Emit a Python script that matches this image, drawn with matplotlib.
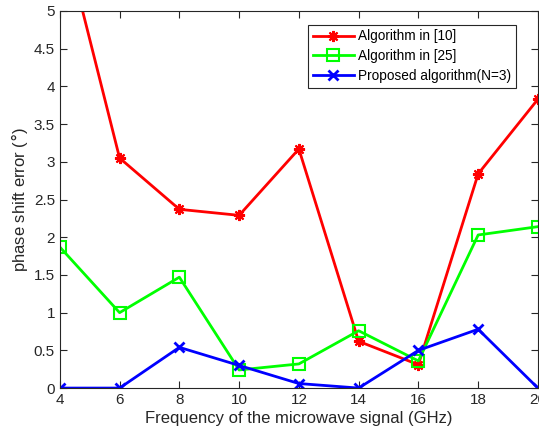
import matplotlib
matplotlib.use('Agg')
import matplotlib.pyplot as plt

plt.rcParams['font.family'] = ['Liberation Sans', 'DejaVu Sans']

# data
freq = [4, 6, 8, 10, 12, 14, 16, 18, 20]
alg10 = [6.2, 3.05, 2.37, 2.29, 3.17, 0.62, 0.31, 2.84, 3.83]
alg25 = [1.87, 1.0, 1.47, 0.24, 0.32, 0.76, 0.36, 2.03, 2.14]
proposed = [0.0, 0.0, 0.54, 0.3, 0.06, 0.0, 0.5, 0.78, 0.0]

fig = plt.figure(figsize=(5.39, 4.38), dpi=100, facecolor='white')
ax = fig.add_axes([0.111, 0.114, 0.887, 0.861])

ax.plot(freq, alg10, color='#ff0000', linewidth=2, marker=(8, 2, 0), markersize=8,
        markeredgewidth=1.5, label='Algorithm in [10]')
ax.plot(freq, alg25, color='#00ff00', linewidth=2, marker='s', markersize=8,
        markerfacecolor='none', markeredgewidth=1.5, label='Algorithm in [25]')
ax.plot(freq, proposed, color='#0000ff', linewidth=2, marker='x', markersize=7,
        markeredgewidth=2, label='Proposed algorithm(N=3)')

ax.set_xlim(4, 20)
ax.set_ylim(0, 5)
ax.set_xticks(range(4, 21, 2))
ax.set_yticks([0, 0.5, 1, 1.5, 2, 2.5, 3, 3.5, 4, 4.5, 5])
ax.set_yticklabels(['0', '0.5', '1', '1.5', '2', '2.5', '3', '3.5', '4', '4.5', '5'])
ax.tick_params(direction='in', top=True, right=True, labelsize=11, colors='#262626', length=5)
for spine in ax.spines.values():
    spine.set_color('#262626')
    spine.set_linewidth(0.8)

ax.set_xlabel('Frequency of the microwave signal (GHz)', fontsize=12, color='#262626', labelpad=3)
ax.set_ylabel('phase shift error ($\\degree$)', fontsize=12, color='#262626', labelpad=3)

leg = ax.legend(loc='upper right', bbox_to_anchor=(0.968, 0.982), fontsize=9.8,
                fancybox=False, edgecolor='#262626', framealpha=1,
                handlelength=3.0, borderpad=0.35, labelspacing=0.42, handletextpad=0.3)
leg.get_frame().set_linewidth(0.8)

fig.savefig('out.png', dpi=100, facecolor='white')
